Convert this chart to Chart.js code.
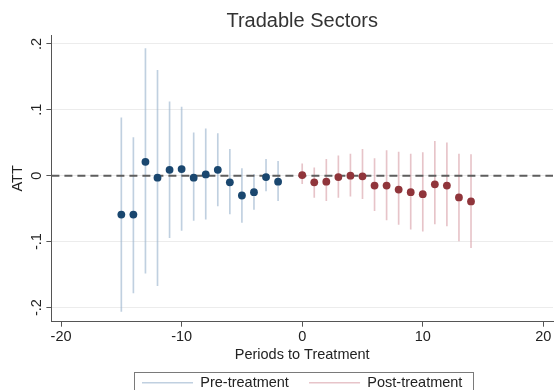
<!DOCTYPE html>
<html>
<head>
<meta charset="utf-8">
<script src="https://cdn.jsdelivr.net/npm/chart.js@4.4.1/dist/chart.umd.min.js"></script>
<style>
  html, body { margin: 0; padding: 0; background: #fff; overflow: hidden; }
  #wrap { width: 557px; height: 390px; overflow: hidden; }
  canvas { display: block; }
</style>
</head>
<body>
<div id="wrap"><canvas id="c" width="557" height="400"></canvas></div>
<script>
// Event-study estimates: periods relative to treatment, ATT and 95% bounds
const prePeriods  = [-15, -14, -13, -12, -11, -10, -9, -8, -7, -6, -5, -4, -3, -2];
const preATT      = [-0.059, -0.059, 0.021, -0.003, 0.009, 0.010, -0.003, 0.002, 0.009, -0.010, -0.030, -0.025, -0.002, -0.009];
const preLower    = [-0.206, -0.178, -0.148, -0.167, -0.094, -0.083, -0.068, -0.066, -0.046, -0.058, -0.071, -0.051, -0.023, -0.038];
const preUpper    = [0.088, 0.058, 0.193, 0.160, 0.112, 0.104, 0.065, 0.071, 0.064, 0.040, 0.011, 0.002, 0.025, 0.022];

const postPeriods = [0, 1, 2, 3, 4, 5, 6, 7, 8, 9, 10, 11, 12, 13, 14];
const postATT     = [0.001, -0.010, -0.009, -0.002, 0.000, -0.001, -0.015, -0.015, -0.021, -0.025, -0.028, -0.013, -0.015, -0.033, -0.039];
const postLower   = [-0.012, -0.033, -0.038, -0.033, -0.031, -0.035, -0.053, -0.067, -0.074, -0.081, -0.084, -0.073, -0.076, -0.099, -0.109];
const postUpper   = [0.018, 0.012, 0.025, 0.030, 0.033, 0.040, 0.026, 0.038, 0.036, 0.033, 0.035, 0.052, 0.050, 0.033, 0.032];

const xTicks      = [-20, -10, 0, 10, 20];
const yTicks      = [-0.2, -0.1, 0, 0.1, 0.2];
const yTickLabels = ['-.2', '-.1', '0', '.1', '.2'];
const xRange      = [-20.8, 20.8];
const yRange      = [-0.2215, 0.2135];
const refLineY    = 0;

const NAVY = '#1a476f', MAROON = '#90353b';
const PRE_CI = 'rgba(158,183,208,0.65)', POST_CI = 'rgba(218,165,172,0.65)';
const FONT = '"Liberation Sans", Arial, Helvetica, sans-serif';
const FS = 14.5;

const ciData = (ts, lo, hi) => ts.map((t, i) => ({ x: t, y: [lo[i], hi[i]] }));
const ptData = (ts, v) => ts.map((t, i) => ({ x: t, y: v[i] }));

// Frame around the legend entries
const legendFrame = {
  id: 'legendFrame',
  afterDraw(chart) {
    const lg = chart.legend;
    if (!lg || !lg.legendHitBoxes || !lg.legendHitBoxes.length) return;
    const hb = lg.legendHitBoxes;
    const left = Math.min(...hb.map(b => b.left)) - 8;
    const right = Math.max(...hb.map(b => b.left + b.width)) + 11;
    const top = Math.min(...hb.map(b => b.top)) - 4;
    const bottom = Math.max(...hb.map(b => b.top + b.height)) + 6;
    const ctx = chart.ctx;
    ctx.save();
    ctx.strokeStyle = '#7a7a7a';
    ctx.lineWidth = 1;
    ctx.strokeRect(Math.round(left) + 0.5, Math.round(top) + 0.5, Math.round(right - left), Math.round(bottom - top));
    ctx.restore();
  }
};

new Chart(document.getElementById('c'), {
  data: {
    datasets: [
      {
        type: 'bar', label: 'Pre-treatment', data: ciData(prePeriods, preLower, preUpper),
        backgroundColor: PRE_CI, borderWidth: 0, barThickness: 1, grouped: false, order: 3
      },
      {
        type: 'bar', label: 'Post-treatment', data: ciData(postPeriods, postLower, postUpper),
        backgroundColor: POST_CI, borderWidth: 0, barThickness: 1, grouped: false, order: 3
      },
      {
        type: 'line', label: 'zero', data: [{ x: xRange[0], y: refLineY }, { x: xRange[1], y: refLineY }],
        borderColor: '#5e5e5e', borderWidth: 2, borderDash: [8, 5], pointRadius: 0, order: 2
      },
      {
        type: 'scatter', label: 'pre-points', data: ptData(prePeriods, preATT),
        backgroundColor: NAVY, borderWidth: 0, pointRadius: 3.9, order: 1
      },
      {
        type: 'scatter', label: 'post-points', data: ptData(postPeriods, postATT),
        backgroundColor: MAROON, borderWidth: 0, pointRadius: 3.9, order: 1
      }
    ]
  },
  options: {
    responsive: false,
    animation: false,
    events: [],
    layout: { padding: { left: 0, right: 0, top: 0, bottom: 0 } },
    plugins: {
      title: {
        display: true, text: 'Tradable Sectors', fullSize: false,
        color: '#333', font: { family: FONT, size: 20, weight: 'normal', lineHeight: 1.2 },
        padding: { top: 9, bottom: 2 }
      },
      legend: {
        display: true, position: 'bottom', fullSize: false,
        labels: {
          font: { family: FONT, size: FS }, color: '#222', padding: 10,
          usePointStyle: true, pointStyleWidth: 51, boxHeight: FS,
          generateLabels(chart) {
            const items = chart.data.datasets
              .map((ds, i) => ({ ds, i }))
              .filter(o => o.ds.type === 'bar');
            return items.map((o, k) => ({
              // en + thin space widen the gap between the two entries
              text: o.ds.label + (k < items.length - 1 ? '\u2002\u2009' : ''),
              datasetIndex: o.i, hidden: false,
              pointStyle: 'line', strokeStyle: o.ds.backgroundColor,
              fillStyle: o.ds.backgroundColor, lineWidth: 1.5, fontColor: '#222'
            }));
          }
        }
      },
      tooltip: { enabled: false }
    },
    scales: {
      x: {
        type: 'linear', min: xRange[0], max: xRange[1], offset: false,
        afterBuildTicks: s => { s.ticks = xTicks.map(v => ({ value: v })); },
        ticks: { font: { family: FONT, size: FS, lineHeight: 1.2 }, color: '#222', padding: 1.3, maxRotation: 0 },
        grid: { offset: false, drawOnChartArea: false, tickLength: 5, tickColor: '#555' },
        border: { color: '#555', width: 1 },
        title: {
          display: true, text: 'Periods to Treatment', color: '#222',
          font: { family: FONT, size: FS, lineHeight: 1.2 }, padding: { top: 0, bottom: 1.4 }
        }
      },
      y: {
        type: 'linear', min: yRange[0], max: yRange[1],
        afterBuildTicks: s => { s.ticks = yTicks.map(v => ({ value: v })); },
        ticks: {
          font: { family: FONT, size: FS }, color: '#222', padding: 1,
          minRotation: 90, maxRotation: 90, crossAlign: 'center',
          callback: (v) => { const k = yTicks.findIndex(t => Math.abs(t - v) < 1e-9); return k >= 0 ? yTickLabels[k] : ''; }
        },
        grid: { color: '#ececec', lineWidth: 1, tickLength: 5, tickColor: '#555' },
        border: { color: '#555', width: 1 },
        title: {
          display: true, text: 'ATT', color: '#222',
          font: { family: FONT, size: FS, lineHeight: 1 }, padding: { top: 11, bottom: 1.5 }
        }
      }
    }
  },
  plugins: [legendFrame]
});
</script>
</body>
</html>
